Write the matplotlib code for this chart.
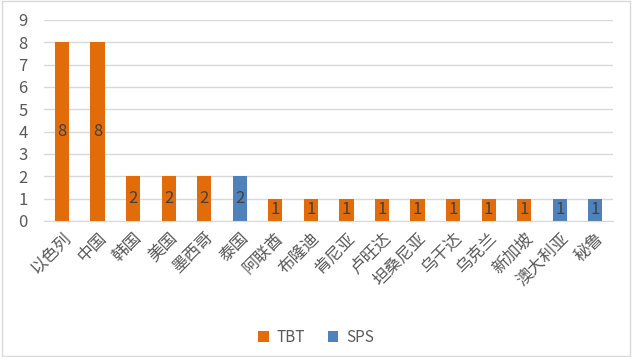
import matplotlib.pyplot as plt
import matplotlib.transforms as mtransforms
import numpy as np

plt.rcParams['font.family'] = ['Noto Sans CJK SC', 'DejaVu Sans']

countries = ['以色列', '中国', '韩国', '美国', '墨西哥', '泰国', '阿联酋', '布隆迪',
             '肯尼亚', '卢旺达', '坦桑尼亚', '乌干达', '乌克兰', '新加坡', '澳大利亚', '秘鲁']
tbt = [8, 8, 2, 2, 2, 0, 1, 1, 1, 1, 1, 1, 1, 1, 0, 0]
sps = [0, 0, 0, 0, 0, 2, 0, 0, 0, 0, 0, 0, 0, 0, 1, 1]

c_tbt = '#E36C0A'
c_sps = '#4F81BD'
txt = '#595959'

fig = plt.figure(figsize=(6.32, 3.57), dpi=100)
ax = fig.add_axes([0.07, 0.381, 0.90, 0.563])

x = np.arange(len(countries))
b1 = ax.bar(x, tbt, width=0.4, color=c_tbt, label='TBT', zorder=2)
b2 = ax.bar(x, sps, width=0.4, bottom=tbt, color=c_sps, label='SPS', zorder=2)

# 数据标签放在柱子中间
for bars in (b1, b2):
    for r in bars:
        h = r.get_height()
        if h > 0:
            ax.text(r.get_x() + r.get_width() / 2, r.get_y() + h / 2, f'{h:g}',
                    ha='center', va='center', fontsize=12, color='#404040', zorder=3)

ax.set_xlim(-0.5, len(countries) - 0.5)
ax.set_ylim(0, 9)
ax.set_yticks(range(0, 10))
ax.yaxis.grid(True, color='#D9D9D9', linewidth=1, zorder=0)
ax.set_xticks(x)
ax.set_xticklabels(countries, rotation=45, ha='right', rotation_mode='anchor',
                   fontsize=12, color=txt)
# 标签稍微向左偏移
shift = mtransforms.ScaledTranslation(-5 / 72, 0, fig.dpi_scale_trans)
for lab in ax.get_xticklabels():
    lab.set_transform(lab.get_transform() + shift)
ax.tick_params(axis='y', labelsize=12, labelcolor=txt, length=0, pad=12)
ax.tick_params(axis='x', length=0, pad=6)
for s in ['top', 'right', 'left']:
    ax.spines[s].set_visible(False)
ax.spines['bottom'].set_color('#D9D9D9')

fig.legend(handles=[b1, b2], labels=['TBT', 'SPS'], loc='center', bbox_to_anchor=(0.5, 0.055),
           ncol=2, frameon=False, fontsize=11, handlelength=0.7, handleheight=0.7,
           columnspacing=1.5, handletextpad=0.5, labelcolor=txt)

# 外边框
fig.patches.append(plt.Rectangle((0.003, 0.004), 0.994, 0.992, transform=fig.transFigure,
                                 fill=False, edgecolor='#D9D9D9', linewidth=1))

fig.savefig('out.png', dpi=100)
